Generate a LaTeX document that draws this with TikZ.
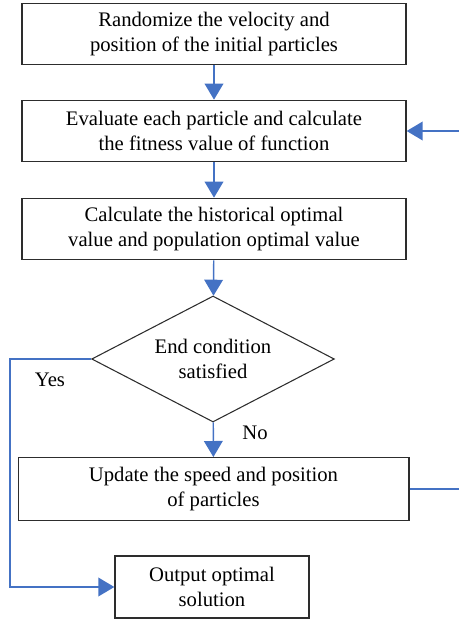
\documentclass[tikz,border=0pt]{standalone}
\usepackage{fontspec}
\setmainfont{Liberation Serif}
\usetikzlibrary{arrows.meta,shapes.geometric}
\definecolor{flowblue}{RGB}{68,114,196}
\definecolor{boxline}{RGB}{45,45,45}

\begin{document}
\begin{tikzpicture}[x=0.75pt,y=-0.75pt,auto,
                    font=\fontsize{15.5}{18.8}\selectfont,
                    every edge/.style={draw=flowblue,line width=1.1pt,
                      -{Triangle[width=14pt,length=12pt]}}]
    \tikzstyle{process}=[draw=boxline,line width=1pt,align=center,
                         minimum width=288pt,minimum height=46pt,inner sep=0pt]
    \tikzstyle{decision}=[diamond,aspect=1.93,draw=boxline,line width=0.8pt,align=center,
                          minimum width=182pt,minimum height=94.5pt,inner sep=0pt]
    \tikzstyle{link}=[draw=flowblue,line width=1.1pt]

    \useasboundingbox (0,0) rectangle (459,622);

    \node[process]                        (init)   at (214,34)    {Randomize the velocity and\\position of the initial particles};
    \node[process]                        (eval)   at (214,131) {Evaluate each particle and calculate\\the fitness value of function};
    \node[process]                        (best)   at (214,229)   {Calculate the historical optimal\\value and population optimal value};
    \node[decision]                       (stop)   at (213,359)   {End condition\\satisfied};
    \node[process,minimum width=293pt,minimum height=47pt] (update) at (213.5,489) {Update the speed and position\\of particles};
    \node[process,minimum width=145.5pt,minimum height=46.5pt] (output) at (212,587) {Output optimal\\solution};

    \coordinate (fbout)  at (459,489);
    \coordinate (fbin)   at (459,131);
    \coordinate (yesbend) at (10,587);

    \path (init)  edge (eval)
          (eval)  edge (best)
          (best)  edge (stop)
          (stop)  edge node[pos=0.3,anchor=west,xshift=18pt] {No} (update)
          (fbin)  edge (eval);

    \draw[link] (update.east) -- (fbout);
    \draw[link,-{Triangle[width=14pt,length=12pt]}] (stop.west) -| (yesbend) -- (output.west);
    \node (yes) at (50,380) {Yes};
\end{tikzpicture}
\end{document}
